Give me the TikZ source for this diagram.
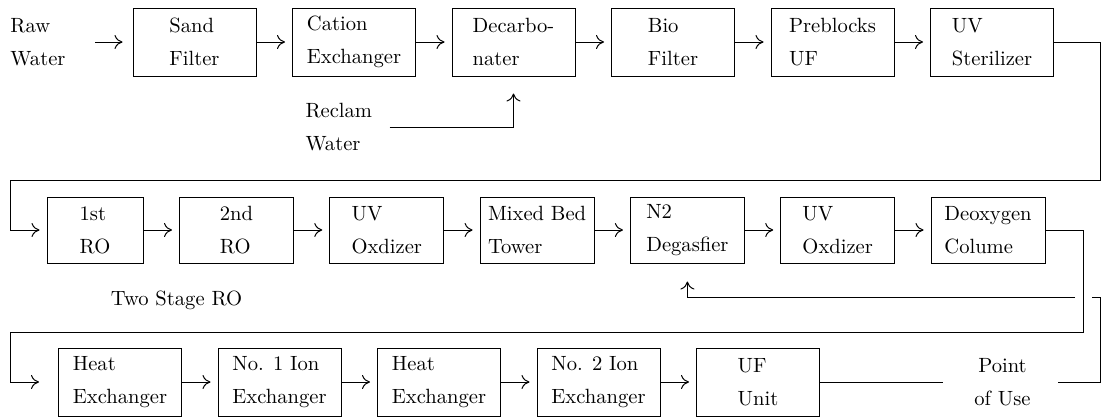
\documentclass[tikz,border=0pt]{standalone}
\usetikzlibrary{arrows.meta}
\tikzstyle{unitbox} = [draw, minimum width=61.5pt, minimum height=34pt, align=left, inner sep=0pt]
\tikzstyle{robox} = [unitbox, minimum width=57pt, minimum height=33pt]
\tikzstyle{textnote} = [align=left, inner sep=0pt]
\tikzstyle{flow} = [->, shorten >=3.5pt]

\begin{document}
\begin{tikzpicture}[x=0.5pt, y=-0.5pt, line width=0.5pt, node distance=79.75pt,
        >={To[length=4pt,width=7pt]},
        every node/.style={font=\fontsize{10.3pt}{16.5pt}\selectfont}]
        \useasboundingbox (0,0) rectangle (1103,419);
        \node (raw) [textnote, anchor=west] at (10,42) {Raw\\Water};
        \node (sand) [unitbox] at (194.5,42) {Sand\\Filter};
        \node (cation) [unitbox, right of=sand] {Cation\\Exchanger};
        \node (decarb) [unitbox, right of=cation] {Decarbo-\\nater};
        \node (bio) [unitbox, right of=decarb] {Bio\\Filter};
        \node (preuf) [unitbox, right of=bio] {Preblocks\\UF};
        \node (uvster) [unitbox, right of=preuf] {UV\\Sterilizer};
        \node (reclam) [textnote, anchor=west] at (305,127.5) {Reclam\\Water};
        \node (ro1) [robox, minimum width=48pt] at (95,230) {1st\\RO};
        \node (ro2) [robox, right of=ro1, xshift=-9pt] {2nd\\RO};
        \node (uvox1) [robox, right of=ro2, xshift=-4.6pt] {UV\\Oxdizer};
        \node (mixbed) [robox, right of=uvox1, xshift=-4.6pt] {Mixed Bed\\Tower};
        \node (degas) [robox, right of=mixbed, xshift=-4.6pt] {N2\\Degasfier};
        \node (uvox2) [robox, right of=degas, xshift=-4.6pt] {UV\\Oxdizer};
        \node (deoxy) [robox, right of=uvox2, xshift=-4.6pt] {Deoxygen\\Colume};
        \node (twostage) at (176.5,300) {Two Stage RO};
        \node (heat1) [unitbox] at (120,382) {Heat\\Exchanger};
        \node (ion1) [unitbox, right of=heat1] {No. 1 Ion\\Exchanger};
        \node (heat2) [unitbox, right of=ion1] {Heat\\Exchanger};
        \node (ion2) [unitbox, right of=heat2] {No. 2 Ion\\Exchanger};
        \node (ufunit) [unitbox, right of=ion2] {UF\\Unit};
        \node (pou) [textnote, align=center] at (1002.5,382) {Point\\of Use};
        % turning points of the long lines
        \coordinate (r1) at (1100,180);
        \coordinate (r2) at (10,180);
        \coordinate (r3) at (1083,332);
        \coordinate (r4) at (10,332);
        \coordinate (r5) at (1100,382);
        \coordinate (r6) at (1092,297);
        \coordinate (r7) at (1075,297);
        \draw [flow, shorten <=14.5pt, shorten >=5pt] (raw) -- (sand);
        \draw [flow] (sand) -- (cation);
        \draw [flow] (cation) -- (decarb);
        \draw [flow] (decarb) -- (bio);
        \draw [flow] (bio) -- (preuf);
        \draw [flow] (preuf) -- (uvster);
        \draw [flow, shorten <=8.5pt, shorten >=8.5pt] (reclam.east) -| (decarb.south);
        \draw [flow] (uvster.east) -| (r1) -- (r2) |- (ro1.west);
        \draw [flow] (ro1) -- (ro2);
        \draw [flow] (ro2) -- (uvox1);
        \draw [flow] (uvox1) -- (mixbed);
        \draw [flow] (mixbed) -- (degas);
        \draw [flow] (degas) -- (uvox2);
        \draw [flow] (uvox2) -- (deoxy);
        \draw [flow, shorten >=9.5pt] (deoxy.east) -| (r3) -- (r4) |- (heat1.west);
        \draw [flow] (heat1) -- (ion1);
        \draw [flow] (ion1) -- (heat2);
        \draw [flow] (heat2) -- (ion2);
        \draw [flow] (ion2) -- (ufunit);
        \draw [shorten >=15.5pt] (ufunit) -- (pou);
        \draw [shorten <=13.5pt] (pou.east) -- (r5) |- (r6);
        \draw [flow, shorten >=9pt] (r7) -| (degas.south);
\end{tikzpicture}
\end{document}
